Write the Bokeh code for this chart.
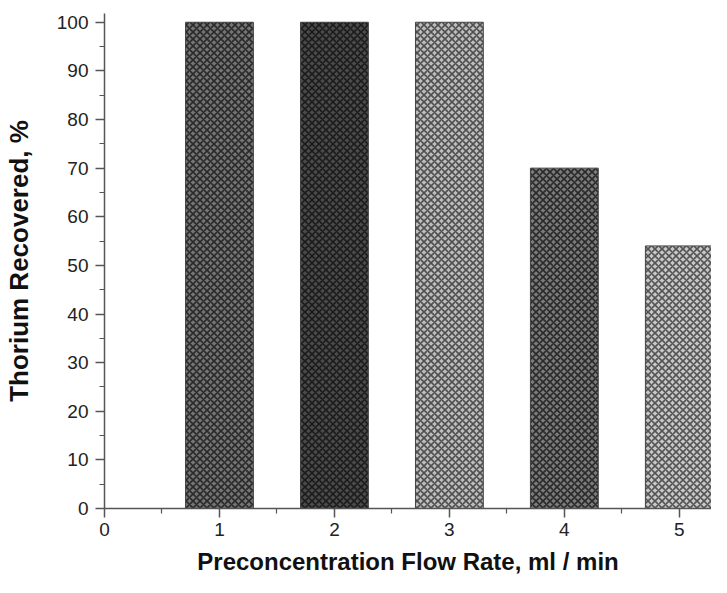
from bokeh.plotting import figure
from bokeh.models import FixedTicker, Range1d, ColumnDataSource
from bokeh.embed import file_html
from bokeh.resources import INLINE

flow_rate = [1, 2, 3, 4, 5]
recovered = [100, 100, 100, 70, 54]
x_ticks = [0, 1, 2, 3, 4, 5]
y_ticks = [0, 10, 20, 30, 40, 50, 60, 70, 80, 90, 100]

fill_colors = ["#747474", "#4a4a4a", "#bdbdbd", "#7a7a7a", "#c8c8c8"]
hatch_colors = ["#2a2a2a", "#1c1c1c", "#505050", "#2a2a2a", "#555555"]

src = ColumnDataSource(dict(x=flow_rate, top=recovered, fc=fill_colors, hc=hatch_colors))

p = figure(width=711, height=577, output_backend="svg", toolbar_location=None,
           x_range=Range1d(0, 5.28), y_range=Range1d(0, 101.8),
           min_border_left=104, min_border_right=0, min_border_top=13, min_border_bottom=67)

p.vbar(x="x", top="top", bottom=0, width=0.59, source=src,
       fill_color="fc", line_color="#444444", line_width=1,
       hatch_pattern="diagonal_cross", hatch_color="hc", hatch_scale=7, hatch_weight=1.6)

p.xgrid.visible = False
p.ygrid.visible = False
p.outline_line_color = None

p.xaxis.ticker = FixedTicker(ticks=x_ticks, minor_ticks=[0.5, 1.5, 2.5, 3.5, 4.5])
p.yaxis.ticker = FixedTicker(ticks=y_ticks, minor_ticks=[5, 15, 25, 35, 45, 55, 65, 75, 85, 95])

for ax in (p.xaxis[0], p.yaxis[0]):
    ax.axis_line_color = "#555555"
    ax.axis_line_width = 1.5
    ax.major_tick_line_color = "#555555"
    ax.minor_tick_line_color = "#555555"
    ax.major_tick_line_width = 1.5
    ax.minor_tick_line_width = 1.2
    ax.major_tick_out = 9
    ax.major_tick_in = 0
    ax.minor_tick_out = 5
    ax.minor_tick_in = 0
    ax.major_label_text_font = "Liberation Sans"
    ax.major_label_text_font_size = "19px"
    ax.major_label_text_color = "#222222"
    ax.axis_label_text_font = "Liberation Sans"
    ax.axis_label_text_font_style = "bold"
    ax.axis_label_text_color = "#111111"

p.xaxis.axis_label = "Preconcentration Flow Rate, ml / min"
p.yaxis.axis_label = "Thorium Recovered, %"
p.xaxis.axis_label_text_font_size = "24px"
p.yaxis.axis_label_text_font_size = "26px"
p.xaxis.major_label_standoff = 5
p.yaxis.major_label_standoff = 7
p.xaxis.axis_label_standoff = 9
p.yaxis.axis_label_standoff = 20

open("out.html", "w").write(file_html(p, INLINE))
